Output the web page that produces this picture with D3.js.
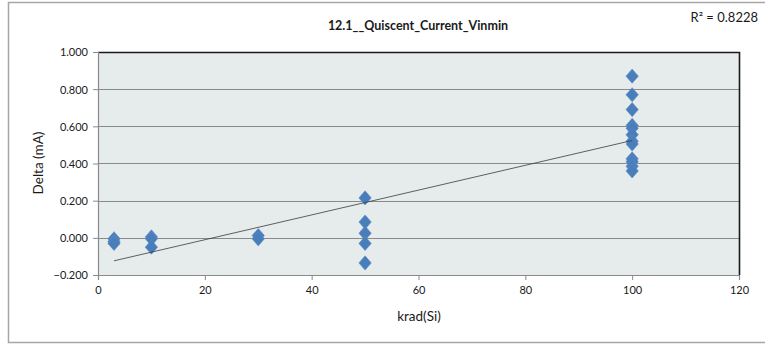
<!DOCTYPE html>
<html>
<head>
<meta charset="utf-8">
<script src="https://cdn.jsdelivr.net/npm/d3@7"></script>
<style>
  html, body { margin: 0; padding: 0; background: #ffffff; }
  svg { display: block; font-family: "Lato", "Open Sans", sans-serif; }
</style>
</head>
<body>
<svg id="chart" width="765" height="346"></svg>
<script>
// Dose levels (krad(Si)) and the measured delta of quiescent current (mA)
const doseX = [3, 3, 3,
               10, 10, 10,
               30, 30,
               50, 50, 50, 50, 50,
               100, 100, 100, 100, 100, 100, 100, 100, 100, 100, 100, 100];
const deltaY = [-0.005, -0.020, -0.030,
                0.005, -0.005, -0.050,
                0.012, -0.005,
                0.215, 0.085, 0.025, -0.030, -0.135,
                0.870, 0.770, 0.690, 0.605, 0.590, 0.555, 0.520, 0.505, 0.425, 0.410, 0.385, 0.360];

const xTicks = [0, 20, 40, 60, 80, 100, 120];
const yTicks = [-0.2, 0.0, 0.2, 0.4, 0.6, 0.8, 1.0];

const chartTitle = "12.1__Quiscent_Current_Vinmin";
const xTitle = "krad(Si)";
const yTitle = "Delta (mA)";
const r2Label = "R² = 0.8228";

const svg = d3.select("#chart");

const plot = { left: 98, right: 739, top: 52, bottom: 275 };

const x = d3.scaleLinear().domain([0, 120]).range([plot.left, plot.right]);
const y = d3.scaleLinear().domain([-0.2, 1.0]).range([plot.bottom, plot.top]);

// outer chart frame
svg.append("rect")
  .attr("x", 8.5).attr("y", 2.5)
  .attr("width", 800).attr("height", 340)
  .attr("fill", "#ffffff")
  .attr("stroke", "#a6a6a6").attr("stroke-width", 1.5);

// plot area background
svg.append("rect")
  .attr("x", plot.left).attr("y", plot.top)
  .attr("width", plot.right - plot.left).attr("height", plot.bottom - plot.top)
  .attr("fill", "#e6ecec");

// horizontal gridlines
svg.append("g")
  .selectAll("line")
  .data(yTicks.filter(t => t > -0.2 && t < 1.0))
  .join("line")
  .attr("x1", plot.left).attr("x2", plot.right)
  .attr("y1", d => Math.round(y(d)) + 0.5).attr("y2", d => Math.round(y(d)) + 0.5)
  .attr("stroke", "#8a8a8a").attr("stroke-width", 1);

// dark top and right edges of the plot area
svg.append("path")
  .attr("d", `M${plot.left},${plot.top + 0.5}H${plot.right + 0.5}V${plot.bottom}`)
  .attr("fill", "none")
  .attr("stroke", "#1a1a1a").attr("stroke-width", 1.6);

// axes
const yAxis = d3.axisLeft(y).tickValues(yTicks).tickFormat(d3.format(".3f")).tickSizeOuter(0).tickSize(5).tickPadding(5);
const xAxis = d3.axisBottom(x).tickValues(xTicks).tickFormat(d3.format("d")).tickSizeOuter(0).tickSize(5).tickPadding(6);

const gy = svg.append("g").attr("transform", `translate(${plot.left},0)`).call(yAxis);
const gx = svg.append("g").attr("transform", `translate(0,${plot.bottom})`).call(xAxis);

[gx, gy].forEach(g => {
  g.select(".domain").attr("stroke", "#8a8a8a").attr("stroke-width", 1.2);
  g.selectAll(".tick line").attr("stroke", "#8a8a8a");
  g.selectAll(".tick text")
    .attr("fill", "#1a1a1a")
    .style("font-size", "11px")
    .style("font-family", "Lato, 'Open Sans', sans-serif");
});
gy.selectAll(".tick text").attr("dy", "0.35em");

// least-squares trendline across the measured dose range
const n = doseX.length;
const mx = d3.mean(doseX), my = d3.mean(deltaY);
let sxy = 0, sxx = 0;
for (let i = 0; i < n; i++) {
  sxy += (doseX[i] - mx) * (deltaY[i] - my);
  sxx += (doseX[i] - mx) * (doseX[i] - mx);
}
const slope = sxy / sxx;
const intercept = my - slope * mx;
const [xMin, xMax] = d3.extent(doseX);

// rhombus marker, slightly taller than wide
const rhombus = {
  draw(context, size) {
    const a = Math.sqrt(size / 2.3);
    const b = a * 1.15;
    context.moveTo(0, -b);
    context.lineTo(a, 0);
    context.lineTo(0, b);
    context.lineTo(-a, 0);
    context.closePath();
  }
};
const marker = d3.symbol().type(rhombus).size(88);

svg.append("g")
  .selectAll("path")
  .data(doseX.map((d, i) => [d, deltaY[i]]))
  .join("path")
  .attr("d", marker)
  .attr("transform", d => `translate(${x(d[0])},${y(d[1])})`)
  .attr("fill", "#4a7ebb")
  .attr("stroke", "#5a8ac6")
  .attr("stroke-width", 0.6);

svg.append("line")
  .attr("x1", x(xMin)).attr("y1", y(intercept + slope * xMin))
  .attr("x2", x(xMax)).attr("y2", y(intercept + slope * xMax))
  .attr("stroke", "#3a3a3a").attr("stroke-width", 0.8);

// titles
svg.append("text")
  .attr("x", 418).attr("y", 30)
  .attr("text-anchor", "middle")
  .style("font-size", "12.5px").style("font-weight", "bold")
  .attr("fill", "#1a1a1a")
  .text(chartTitle);

svg.append("text")
  .attr("x", 758).attr("y", 22)
  .attr("text-anchor", "end")
  .style("font-size", "13px")
  .attr("fill", "#1a1a1a")
  .text(r2Label);

svg.append("text")
  .attr("x", 419).attr("y", 321)
  .attr("text-anchor", "middle")
  .style("font-size", "13.5px")
  .attr("fill", "#1a1a1a")
  .text(xTitle);

svg.append("text")
  .attr("transform", "translate(43,163) rotate(-90)")
  .attr("text-anchor", "middle")
  .style("font-size", "13.5px")
  .attr("fill", "#1a1a1a")
  .text(yTitle);
</script>
</body>
</html>
